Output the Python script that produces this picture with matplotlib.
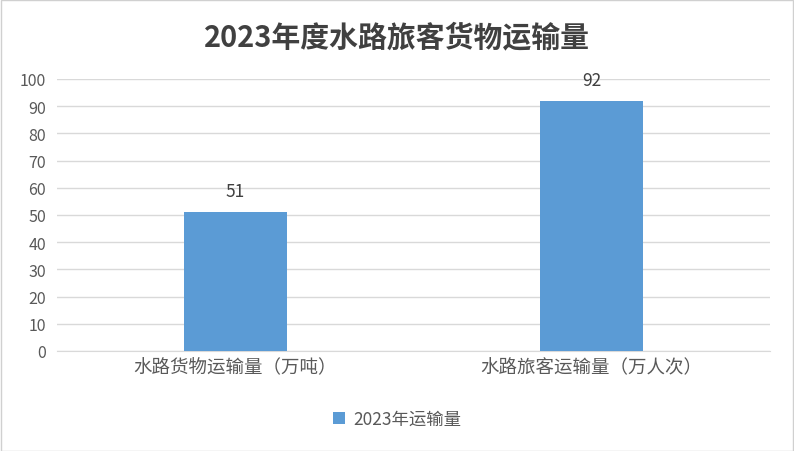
import matplotlib
matplotlib.use('Agg')
import matplotlib.pyplot as plt
from matplotlib.patches import Rectangle

plt.rcParams['font.family'] = ['Noto Sans CJK SC', 'DejaVu Sans']

# data
categories = ['水路货物运输量（万吨）', '水路旅客运输量（万人次）']
values = [51, 92]
series_name = '2023年运输量'
title = '2023年度水路旅客货物运输量'

bar_color = '#5B9BD5'
text_color = '#595959'

fig = plt.figure(figsize=(7.94, 4.52), dpi=100)
ax = fig.add_axes([57/794, 1-352/452, 713/794, 272/452])

xs = list(range(len(categories)))
bars = ax.bar(xs, values, width=0.29, color=bar_color, label=series_name, zorder=3)
for x, v in zip(xs, values):
    ax.text(x, v + 4.5, str(v), ha='center', va='bottom', fontsize=12.5, color='#404040')

ax.set_xlim(-0.5, len(categories) - 0.5)
ax.set_ylim(0, 100)
ax.set_yticks(range(0, 101, 10))
ax.set_xticks(xs)
ax.set_xticklabels(categories, fontsize=13.3, color=text_color)
ax.tick_params(axis='y', labelsize=11.5, colors=text_color, length=0, pad=8)
ax.tick_params(axis='x', length=0, pad=5)
ax.grid(axis='y', color='#D9D9D9', linewidth=1, zorder=0)
for s in ['top', 'right', 'left']:
    ax.spines[s].set_visible(False)
ax.spines['bottom'].set_color('#D9D9D9')

fig.text(0.5, 1-37/452, title, ha='center', va='center', fontsize=20.8,
         fontweight='bold', color='#404040')

leg = fig.legend(handles=[bars], labels=[series_name], loc='center',
                 bbox_to_anchor=(0.5, 1-420/452), frameon=False,
                 fontsize=12.5, handlelength=0.7, handleheight=0.7,
                 handletextpad=0.5)
for t in leg.get_texts():
    t.set_color(text_color)

# thin border around the chart
fig.patches.append(Rectangle((0.001, 0.001), 0.998, 0.997, transform=fig.transFigure,
                             fill=False, edgecolor='#D0D0D0', linewidth=1))

fig.savefig('out.png', dpi=100)
